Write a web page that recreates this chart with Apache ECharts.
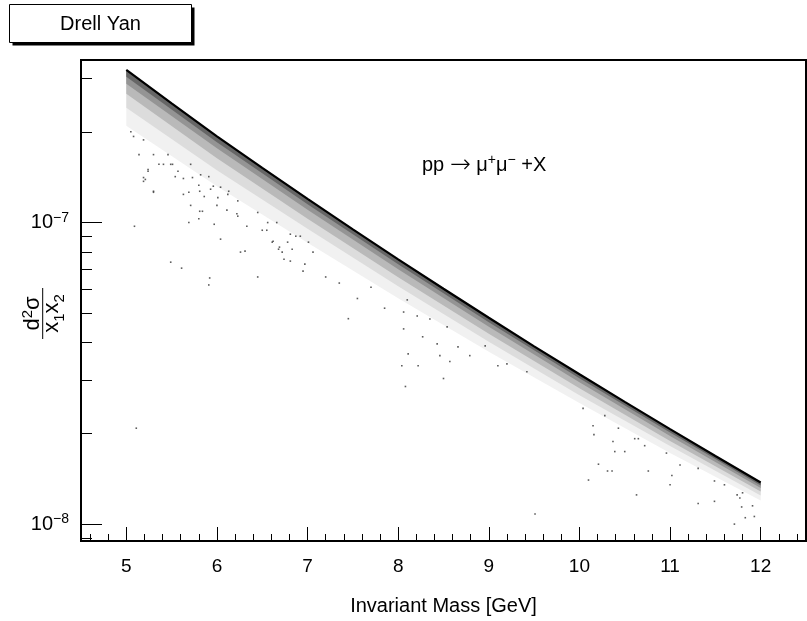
<!DOCTYPE html>
<html><head><meta charset="utf-8">
<script src="https://cdn.jsdelivr.net/npm/echarts@6/dist/echarts.min.js"></script>
<style>html,body{margin:0;padding:0;background:#fff}#c{width:807px;height:621px}</style>
</head><body><div id="c"></div>
<script>
// Upper envelope of the event cloud
const envelopeMass  = [5, 5.5, 6, 6.5, 7, 7.5, 8, 8.5, 9, 9.5, 10, 10.5, 11, 11.5, 12];
const envelopeSigma = [3.209e-7, 2.486e-7, 1.932e-7, 1.518e-7, 1.198e-7, 9.497e-8, 7.553e-8,
                       6.031e-8, 4.833e-8, 3.886e-8, 3.141e-8, 2.542e-8, 2.065e-8, 1.683e-8, 1.374e-8];
// Density contours of the event cloud below the envelope (darkest -> faintest)
const bandMass = [5, 6, 7, 8, 9, 10, 11, 12];
const edge1 = [3.043e-7, 1.846e-7, 1.149e-7, 7.271e-8, 4.670e-8, 3.047e-8, 2.011e-8, 1.343e-8];
const edge2 = [2.885e-7, 1.763e-7, 1.102e-7, 7.000e-8, 4.513e-8, 2.956e-8, 1.958e-8, 1.318e-8];
const edge3 = [2.674e-7, 1.634e-7, 1.029e-7, 6.587e-8, 4.279e-8, 2.824e-8, 1.885e-8, 1.283e-8];
const edge4 = [2.404e-7, 1.492e-7, 9.536e-8, 6.151e-8, 4.027e-8, 2.677e-8, 1.815e-8, 1.245e-8];
const edge5 = [2.096e-7, 1.320e-7, 8.573e-8, 5.614e-8, 3.732e-8, 2.519e-8, 1.720e-8, 1.198e-8];
// Isolated events further below the band [mass, sigma]
const sparseDots = [
  [5.14,1.68e-7],[5.30,1.68e-7],[5.51,1.56e-7],[5.41,1.56e-7],[5.24,1.50e-7],[5.19,1.41e-7],
  [5.19,1.37e-7],[5.30,1.26e-7],[5.54,1.42e-7],[5.09,9.72e-8],[5.49,7.39e-8],[5.61,7.06e-8],
  [5.92,6.55e-8],[5.91,6.21e-8],[5.11,2.08e-8],[5.69,1.00e-7],[5.80,1.03e-7],[5.97,9.87e-8],
  [5.71,1.14e-7],[5.81,1.09e-7],[6.11,1.10e-7],[6.22,1.07e-7],[6.33,9.72e-8],[6.31,8.04e-8],
  [6.45,6.60e-8],[6.45,1.08e-7],[6.50,9.43e-8],[6.55,9.43e-8],[6.62,8.67e-8],[6.72,7.98e-8],
  [6.74,7.56e-8],[6.81,7.45e-8],[6.97,7.28e-8],[6.95,6.90e-8],[6.83,8.16e-8],[6.87,9.01e-8],
  [5.69,1.26e-7],[5.86,1.22e-7],[6.01,1.21e-7],[6.13,1.27e-7],[5.93,1.29e-7],[5.80,1.33e-7],
  [5.63,1.40e-7],[5.73,1.41e-7],[6.56,1.00e-7],[6.66,1.00e-7],[6.78,8.61e-8],[6.69,8.29e-8],
  [6.81,9.15e-8],[5.24,1.48e-7],[5.21,1.39e-7],[5.30,1.27e-7],[5.36,1.56e-7],[5.49,1.56e-7],
  [5.57,1.48e-7],[5.81,1.27e-7],[5.63,1.24e-7],[5.84,1.09e-7],[6.00,1.14e-7],[6.23,1.05e-7],
  [6.61,8.61e-8],[6.68,8.16e-8],[6.92,9.01e-8],[7.01,8.61e-8],[7.06,7.98e-8],[6.26,7.98e-8],
  [6.04,8.81e-8],[5.91,1.42e-7],[5.96,1.32e-7],[5.19,1.88e-7],[5.08,1.93e-7],[5.05,2.00e-7],
  [5.46,1.68e-7],[5.71,1.56e-7],[5.82,1.44e-7],[6.04,1.31e-7],[6.12,1.24e-7],[6.23,1.18e-7],
  [7.35,6.30e-8],[7.55,5.60e-8],[7.70,6.10e-8],[7.85,5.20e-8],[7.45,4.80e-8],[7.20,6.60e-8],
  [8.06,4.44e-8],[8.11,3.67e-8],[8.04,3.35e-8],[8.08,2.86e-8],[8.22,3.35e-8],[8.27,4.18e-8],
  [8.43,3.96e-8],[8.46,3.62e-8],[8.50,3.04e-8],[8.57,3.46e-8],[8.66,3.87e-8],[8.79,3.62e-8],
  [8.96,3.90e-8],[9.10,3.35e-8],[9.20,3.40e-8],[9.42,3.20e-8],[8.06,5.05e-8],[8.10,5.54e-8],
  [8.21,4.90e-8],[8.35,4.79e-8],[8.54,4.51e-8],
  [10.15,2.12e-8],[10.16,1.98e-8],[10.10,1.40e-8],[10.31,1.50e-8],[10.36,1.50e-8],[10.37,1.88e-8],
  [10.21,1.58e-8],[10.39,1.74e-8],[10.50,1.74e-8],[10.65,1.92e-8],[10.72,1.82e-8],[10.76,1.50e-8],
  [10.63,1.25e-8],[10.96,1.72e-8],[11.02,1.45e-8],[11.00,1.35e-8],[11.11,1.57e-8],[11.31,1.53e-8],
  [11.49,1.39e-8],[11.60,1.35e-8],[11.74,1.25e-8],[11.80,1.27e-8],[10.04,2.42e-8],[10.28,2.29e-8],
  [10.43,2.08e-8],[10.61,1.92e-8],[11.49,1.19e-8],[11.71,1.00e-8],[11.79,1.14e-8],[11.93,1.06e-8],
  [11.91,1.15e-8],[11.83,1.05e-8],[11.77,1.22e-8],[11.31,1.17e-8],[9.51,1.08e-8]
];
// Axis ticks
const xMajorTicks = [5, 6, 7, 8, 9, 10, 11, 12];
const xMinorTicks = [4.6,4.8,5.2,5.4,5.6,5.8,6.2,6.4,6.6,6.8,7.2,7.4,7.6,7.8,8.2,8.4,8.6,8.8,
                     9.2,9.4,9.6,9.8,10.2,10.4,10.6,10.8,11.2,11.4,11.6,11.8,12.2,12.4];
const yMajorTicks = [1e-8, 1e-7];
const yMinorTicks = [9e-9, 2e-8, 3e-8, 4e-8, 5e-8, 6e-8, 7e-8, 8e-8, 9e-8, 2e-7, 3e-7];
const xRange = [4.5, 12.5];
const yRange = [8.79e-9, 3.46e-7];

const FONT = '"Liberation Sans", Arial, Helvetica, sans-serif';
const tickStyle = { color: '#000', width: 1 };
const zip = (a, b) => a.map((v, i) => [v, b[i]]);

// Each density layer: region between the envelope and one contour, drawn lightest first
const layers = [
  { edge: edge5, color: '#f1f1f1' },
  { edge: edge4, color: '#dcdcdc' },
  { edge: edge3, color: '#b9b9b9' },
  { edge: edge2, color: '#949494' },
  { edge: edge1, color: '#666666' }
];
const bandSeries = layers.map(l => ({
  type: 'custom', silent: true, clip: true, z: 2,
  data: bandMass.map((m, i) => [m, l.edge[i]]),
  encode: { x: 0, y: 1 },
  renderItem: (params, api) => {
    if (params.dataIndex !== 0) return null;
    const pts = envelopeMass.map((m, i) => api.coord([m, envelopeSigma[i]]));
    for (let i = bandMass.length - 1; i >= 0; i--) pts.push(api.coord([bandMass[i], l.edge[i]]));
    return { type: 'polygon', shape: { points: pts }, style: { fill: l.color, stroke: null } };
  }
}));

const chart = echarts.init(document.getElementById('c'), null, { renderer: 'canvas' });
chart.setOption({
  animation: false,
  backgroundColor: '#fff',
  grid: { left: 81, top: 60, width: 725, height: 483, show: true, borderColor: '#000', borderWidth: 2, backgroundColor: 'transparent', z: 10 },
  xAxis: [
    { type: 'value', min: xRange[0], max: xRange[1], z: 10,
      axisLine: { show: false }, splitLine: { show: false },
      axisTick: { show: true, inside: true, length: 14, customValues: xMajorTicks, lineStyle: tickStyle },
      axisLabel: { customValues: xMajorTicks, margin: 16, fontSize: 19, color: '#000', fontFamily: FONT },
      name: 'Invariant Mass [GeV]', nameLocation: 'middle', nameGap: 55,
      nameTextStyle: { fontSize: 20, color: '#000', fontFamily: FONT } },
    { type: 'value', min: xRange[0], max: xRange[1], z: 10, position: 'bottom',
      axisLine: { show: false }, splitLine: { show: false },
      axisTick: { show: true, inside: true, length: 7, customValues: xMinorTicks, lineStyle: tickStyle },
      axisLabel: { show: false } }
  ],
  yAxis: [
    { type: 'log', logBase: 10, min: yRange[0], max: yRange[1], z: 10,
      axisLine: { show: false }, splitLine: { show: false },
      axisTick: { show: true, inside: true, length: 21, customValues: yMajorTicks, lineStyle: tickStyle },
      axisLabel: { customValues: yMajorTicks, margin: 12,
        formatter: v => '{b|10}{s|\u2212' + (-Math.round(Math.log10(v))) + '}',
        rich: { b: { fontSize: 20, lineHeight: 23, color: '#000', fontFamily: FONT },
                s: { fontSize: 14, lineHeight: 14, verticalAlign: 'top', color: '#000', fontFamily: FONT } } } },
    { type: 'log', logBase: 10, min: yRange[0], max: yRange[1], z: 10, position: 'left',
      axisLine: { show: false }, splitLine: { show: false },
      axisTick: { show: true, inside: true, length: 11, customValues: yMinorTicks, lineStyle: tickStyle },
      axisLabel: { show: false } }
  ],
  series: bandSeries.concat([
    { type: 'line', data: zip(envelopeMass, envelopeSigma), symbol: 'none', silent: true, z: 3,
      lineStyle: { width: 2.2, color: '#000' } },
    { type: 'scatter', data: sparseDots, symbol: 'rect', symbolSize: 1.6, silent: true, z: 4,
      itemStyle: { color: '#333' } }
  ]),
  graphic: [
    { type: 'rect', shape: { x: 12.5, y: 7.5, width: 182, height: 38 }, style: { fill: '#000' } },
    { type: 'rect', shape: { x: 9.5, y: 4.5, width: 182, height: 38 }, style: { fill: '#fff', stroke: '#000', lineWidth: 1 } },
    { type: 'text', x: 100.5, y: 24, style: { text: 'Drell Yan', fill: '#000', fontSize: 20, fontFamily: FONT, align: 'center', verticalAlign: 'middle' } },
    { type: 'text', x: 422, y: 165, style: {
        text: '{n|pp }{a|\u2192}{n| \u03bc}{s|+}{n|\u03bc}{s|\u2212}{n| +X}', fill: '#000', align: 'left', verticalAlign: 'middle',
        rich: { n: { fontSize: 20, lineHeight: 24, fontFamily: FONT, fill: '#000' },
                a: { fontSize: 25, lineHeight: 24, fontFamily: '"DejaVu Sans"', fontWeight: 200, fill: '#000' },
                s: { fontSize: 14, lineHeight: 14, verticalAlign: 'top', fontFamily: FONT, fill: '#000' } } } },
    { type: 'group', x: 42.7, y: 313.5, rotation: Math.PI / 2, children: [
      { type: 'text', x: 0, y: -10, style: {
          text: '{n|d}{s|2}{n|\u03c3}', align: 'center', verticalAlign: 'middle', fill: '#000',
          rich: { n: { fontSize: 22, lineHeight: 24, fontFamily: FONT, fill: '#000' },
                  s: { fontSize: 15, lineHeight: 15, verticalAlign: 'top', fontFamily: FONT, fill: '#000' } } } },
      { type: 'line', shape: { x1: -25.5, y1: 0, x2: 25.5, y2: 0 }, style: { stroke: '#000', lineWidth: 1 } },
      { type: 'text', x: 0, y: 9.5, style: {
          text: '{n|x}{b|1}{n|x}{b|2}', align: 'center', verticalAlign: 'middle', fill: '#000',
          rich: { n: { fontSize: 22, lineHeight: 30, fontFamily: FONT, fill: '#000' },
                  b: { fontSize: 15, lineHeight: 15, verticalAlign: 'bottom', fontFamily: FONT, fill: '#000' } } } }
    ] }
  ]
});
</script></body></html>
